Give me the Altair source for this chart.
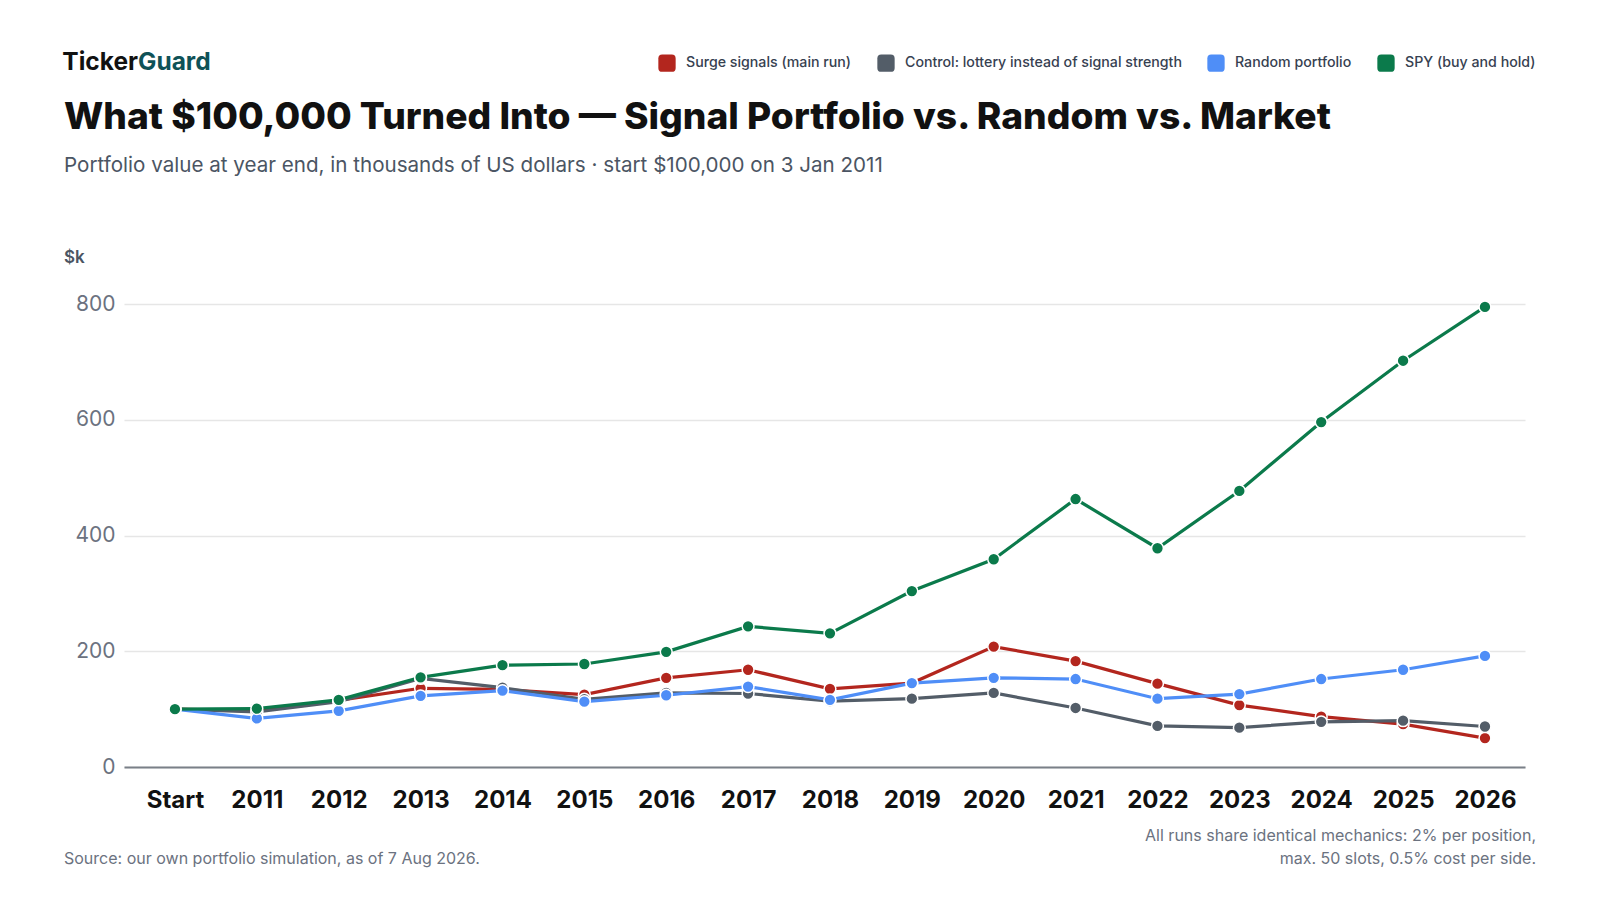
import altair as alt
import pandas as pd

periods = ["Start", "2011", "2012", "2013", "2014", "2015", "2016", "2017", "2018",
           "2019", "2020", "2021", "2022", "2023", "2024", "2025", "2026"]
surge = [100, 97, 115, 136, 134, 125, 154, 168, 135, 145, 208, 183, 144, 107, 87, 74, 50]
control = [100, 95, 113, 153, 137, 117, 128, 127, 114, 118, 128, 102, 71, 68, 78, 80, 70]
random_pf = [100, 84, 97, 123, 132, 113, 124, 139, 116, 145, 154, 152, 118, 126, 152, 168, 192]
spy = [100, 101, 116, 155, 176, 178, 199, 243, 231, 304, 359, 463, 378, 477, 596, 702, 795]

series_names = ["Surge signals (main run)", "Control: lottery instead of signal strength",
                "Random portfolio", "SPY (buy and hold)"]
series_colors = ["#B3261E", "#535D68", "#4F8EF7", "#0B7A4B"]
y_ticks = [0, 200, 400, 600, 800]

rows = []
for name, vals in zip(series_names, [surge, control, random_pf, spy]):
    for p, v in zip(periods, vals):
        rows.append({"period": p, "value": v, "series": name})
df = pd.DataFrame(rows)

FONT = "Inter"
W, H = 1401, 463

x_enc = alt.X("period:N", sort=periods,
              scale=alt.Scale(type="point", padding=0.5557, align=0.56),
              axis=alt.Axis(title=None, labelAngle=0, labelFontSize=24, labelFontWeight="bold",
                            labelColor="#111111", labelPadding=21, ticks=False,
                            domainColor="#7A8088", domainWidth=2, grid=False, labelFont=FONT))
y_enc = alt.Y("value:Q", scale=alt.Scale(domain=[0, 800], nice=False),
              axis=alt.Axis(title=None, values=y_ticks, labelFontSize=21, labelColor="#6B7280",
                            labelPadding=9, ticks=False, domain=False, gridColor="#E6E6E6",
                            gridWidth=1.5, labelFont=FONT))
color_enc = alt.Color("series:N", scale=alt.Scale(domain=series_names, range=series_colors),
                      legend=alt.Legend(title=None, orient="none", direction="horizontal",
                                        legendX=534, legendY=-250, columns=4,
                                        symbolType="M-1,-0.55 Q-1,-1 -0.55,-1 L0.55,-1 Q1,-1 1,-0.55 L1,0.55 Q1,1 0.55,1 L-0.55,1 Q-1,1 -1,0.55 Z",
                                        symbolSize=300, symbolStrokeWidth=0, symbolOpacity=1,
                                        labelFontSize=14.2, labelFontWeight=500, labelColor="#374151",
                                        labelFont=FONT, labelOffset=10, columnPadding=25,
                                        labelLimit=0, padding=0))

base = alt.Chart(df)
lines = base.mark_line(strokeWidth=3.2).encode(x=x_enc, y=y_enc, color=color_enc, detail="series:N")
points = base.mark_point(filled=True, size=140, stroke="white", strokeWidth=1.5, opacity=1).encode(
    x=x_enc, y=y_enc, color=alt.Color("series:N", scale=alt.Scale(domain=series_names, range=series_colors), legend=None))


def txt(t, x, y, size, color, weight="normal", align="left", baseline="middle"):
    return alt.Chart(pd.DataFrame({"t": [t]})).mark_text(
        font=FONT, fontSize=size, color=color, fontWeight=weight, align=align, baseline=baseline
    ).encode(text="t:N", x=alt.value(x), y=alt.value(y))


texts = [
    txt("Ticker", 14, -241, 24.5, "#111111", "bold", align="right"),
    txt("Guard", 14, -241, 24.5, "#0F5257", "bold", align="left"),
    txt("What $100,000 Turned Into \u2014 Signal Portfolio vs. Random vs. Market", -60, -186, 37.2, "#111111", 800),
    txt("Portfolio value at year end, in thousands of US dollars \u00b7 start $100,000 on 3 Jan 2011", -60, -138, 20.6, "#4B5563"),
    txt("$k", -60, -46, 17, "#4B5563", 600),
    txt("Source: our own portfolio simulation, as of 7 Aug 2026.", -60, 555, 16, "#6B7280"),
    txt("All runs share identical mechanics: 2% per position,", 1412, 532, 16, "#6B7280", align="right"),
    txt("max. 50 slots, 0.5% cost per side.", 1412, 555, 16, "#6B7280", align="right"),
]

chart = alt.layer(lines, points, *texts).properties(
    width=W, height=H,
    autosize=alt.AutoSizeParams(type="none"),
    padding={"left": 116, "top": 296, "right": 67, "bottom": 120},
    background="white",
).configure_view(stroke=None)

chart.save("out.html", embed_options={"renderer": "svg", "actions": False})
